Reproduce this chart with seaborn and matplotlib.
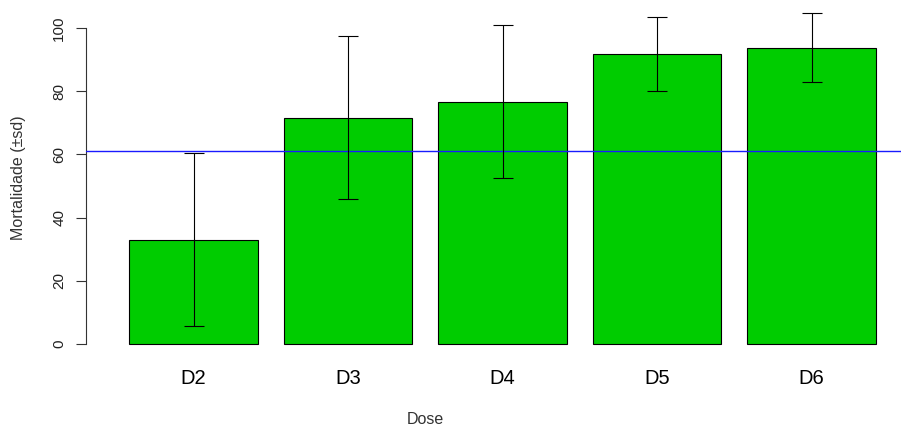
import numpy as np
import matplotlib
matplotlib.use("Agg")
import matplotlib.pyplot as plt
import seaborn as sns
import pandas as pd

# dados
doses = ['D2', 'D3', 'D4', 'D5', 'D6']
mortalidade = [33.0, 71.6, 76.7, 91.9, 93.8]
desvio = [27.3, 25.8, 24.1, 11.7, 10.9]
media_geral = 61.1

sns.set_style("white")
plt.rcParams['font.family'] = ['Liberation Sans', 'DejaVu Sans']

df = pd.DataFrame({'dose': doses, 'mort': mortalidade, 'sd': desvio})

fig = plt.figure(figsize=(9.01, 4.28), dpi=100)
ax = fig.add_axes([86 / 901, 71 / 428, 815 / 901, 358.07 / 428])

sns.barplot(data=df, x='dose', y='mort', color='#00cc00', saturation=1,
            width=0.833, edgecolor='black', linewidth=0.8, errorbar=None, ax=ax)
ax.errorbar(np.arange(len(doses)), df['mort'], yerr=df['sd'], fmt='none',
            ecolor='black', elinewidth=0.8, capsize=7.5, capthick=0.8, zorder=5)
ax.axhline(media_geral, color='#1a1aff', lw=1.0, zorder=4)

ax.set_xlim(-0.696, 4.579)
ax.set_ylim(-4.11, 109.2)
ax.set_yticks([0, 20, 40, 60, 80, 100])

for s in ['top', 'right', 'bottom']:
    ax.spines[s].set_visible(False)
ax.spines['left'].set_bounds(0, 100)
ax.spines['left'].set_color('#333333')
ax.spines['left'].set_linewidth(0.8)

ax.tick_params(axis='y', length=7.2, width=0.8, color='#333333', pad=7,
               labelsize=11, labelcolor='#222222', left=True)
for lab in ax.get_yticklabels():
    lab.set_rotation(90)
    lab.set_va('center')
ax.tick_params(axis='x', length=0, pad=8.5, labelsize=14.5, labelcolor='black')

ax.set_xlabel('Dose', fontsize=11.5, color='#333333')
ax.set_ylabel('Mortalidade (±sd)', fontsize=11.5, color='#333333')
ax.xaxis.set_label_coords(0.416, -0.153)
ax.yaxis.set_label_coords(-0.074, 0.5)

fig.savefig('out.png', dpi=100)
